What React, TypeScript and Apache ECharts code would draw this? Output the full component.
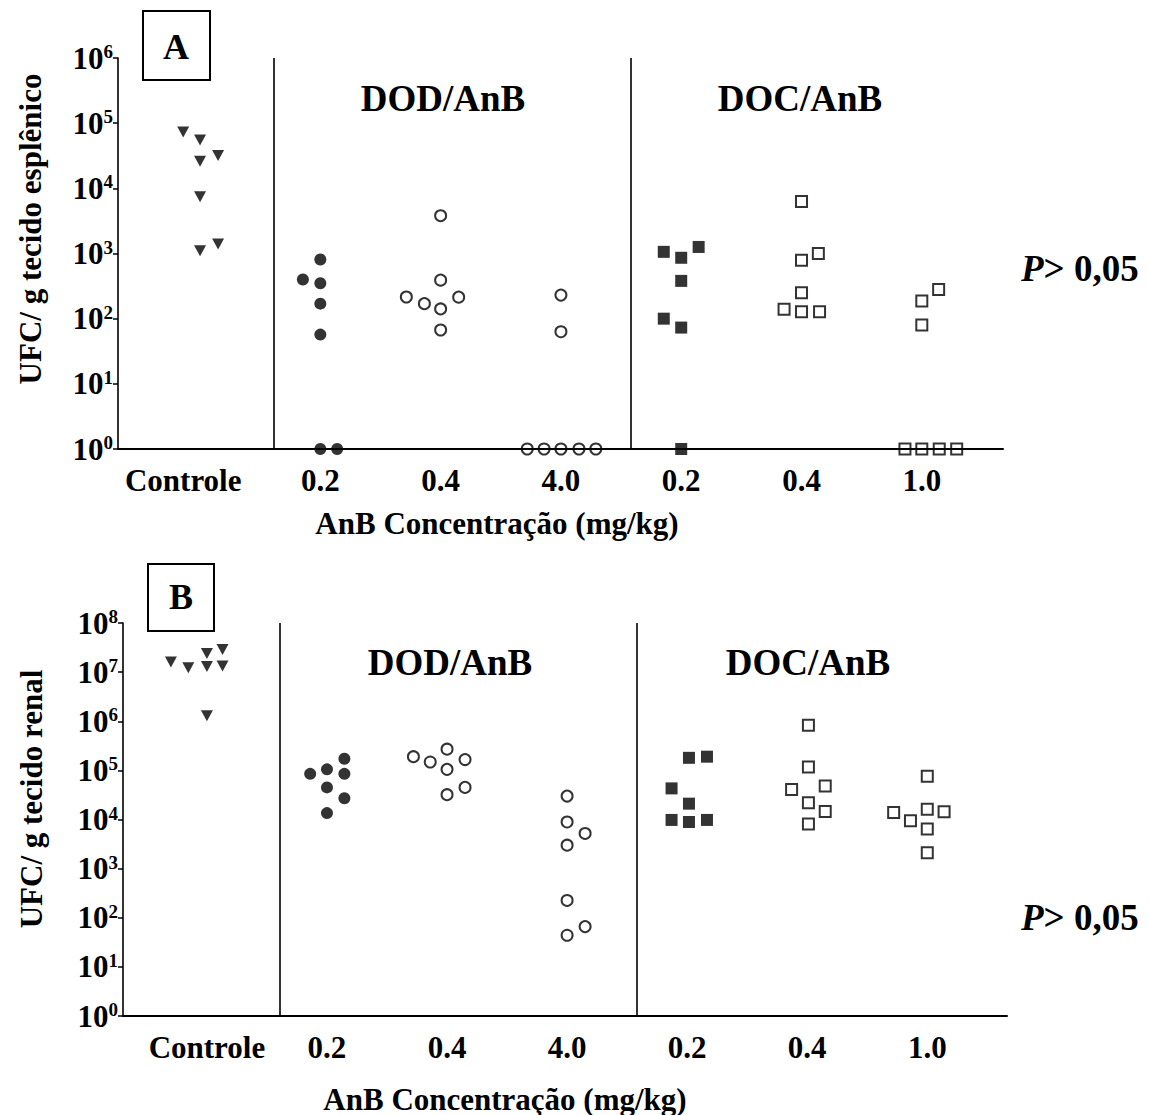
import React, { useEffect, useRef } from "react";
import * as echarts from "echarts";

const FONT = "'Liberation Serif', 'Times New Roman', serif";

const categories = ["Controle", "0.2", "0.4", "4.0", "0.2", "0.4", "1.0"];
const groupTitles = ["DOD/AnB", "DOC/AnB"];
const yNameA = "UFC/ g tecido esplênico";
const yNameB = "UFC/ g tecido renal";
const xName = "AnB Concentração (mg/kg)";
const pText = "> 0,05";

// Panel A (spleen): [group index + jitter, UFC/g]
const aControle = [[-0.14, 73000], [0, 55000], [0, 26000], [0.15, 32000], [0, 7400], [0, 1100], [0.15, 1400]];
const aDOD02 = [[1, 810], [0.855, 400], [1, 350], [1, 170], [1, 57], [1, 1], [1.14, 1]];
const aDOD04 = [[2, 3800], [2, 390], [1.715, 215], [1.865, 170], [2, 141], [2.15, 214], [2, 67]];
const aDOD40 = [[3, 230], [3, 63], [2.72, 1], [2.86, 1], [3, 1], [3.15, 1], [3.29, 1]];
const aDOC02 = [[3.855, 1060], [4, 860], [4.145, 1260], [4, 380], [3.855, 100], [4, 73], [4, 1]];
const aDOC04 = [[5, 6300], [5, 790], [5.14, 1000], [5, 250], [4.855, 139], [5, 128], [5.15, 128]];
const aDOC10 = [[6, 186], [6.14, 280], [6, 80], [5.86, 1], [6, 1], [6.145, 1], [6.29, 1]];

// Panel B (kidney)
const bControle = [[-0.3, 1.6e7], [-0.155, 1.23e7], [0, 1.3e7], [0, 2.4e7], [0.13, 2.9e7], [0.13, 1.34e7], [0, 1.3e6]];
const bDOD02 = [[0.86, 8.5e4], [1, 1.05e5], [1.145, 1.73e5], [1.145, 8.5e4], [1, 4.5e4], [1.145, 2.7e4], [1, 1.35e4]];
const bDOD04 = [[1.72, 1.9e5], [1.86, 1.48e5], [2, 2.7e5], [2.15, 1.66e5], [2, 1.05e5], [2.15, 4.5e4], [2, 3.2e4]];
const bDOD40 = [[3, 3.0e4], [3, 8.9e3], [3.15, 5.2e3], [3, 3.0e3], [3, 225], [3.15, 66], [3, 44]];
const bDOC02 = [[4.015, 1.8e5], [4.165, 1.9e5], [3.87, 4.3e4], [4.015, 2.1e4], [3.87, 9.8e3], [4.015, 8.9e3], [4.165, 9.8e3]];
const bDOC04 = [[5.01, 8.3e5], [5.01, 1.17e5], [4.87, 4.1e4], [5.15, 4.8e4], [5.01, 2.2e4], [5.15, 1.45e4], [5.01, 8.1e3]];
const bDOC10 = [[6, 7.6e4], [5.72, 1.39e4], [5.86, 9.4e3], [6, 1.62e4], [6.14, 1.44e4], [6, 6.4e3], [6, 2.1e3]];

const dividers = [0.615, 3.578];

const triangle = { symbol: "triangle", symbolRotate: 180, symbolSize: [12, 11], itemStyle: { color: "#000" } };
const dot = { symbol: "circle", symbolSize: 12, itemStyle: { color: "#000" } };
const ring = { symbol: "circle", symbolSize: 11, itemStyle: { color: "rgba(255,255,255,0)", borderColor: "#000", borderWidth: 2 } };
const fsq = { symbol: "rect", symbolSize: 12, itemStyle: { color: "#000" } };
const osq = { symbol: "rect", symbolSize: 11, itemStyle: { color: "rgba(255,255,255,0)", borderColor: "#000", borderWidth: 2 } };

function makeSeries(idx: number, groups: number[][][]) {
  const styles = [triangle, dot, ring, ring, fsq, osq, osq];
  return groups.map((d, i) => {
    const s: any = {
      type: "scatter",
      xAxisIndex: idx,
      yAxisIndex: idx,
      data: d,
      ...styles[i],
      emphasis: { disabled: true },
      z: 5,
    };
    if (i === 0) {
      s.markLine = {
        silent: true,
        symbol: ["none", "none"],
        label: { show: false },
        lineStyle: { color: "#000", width: 1.6, type: "solid" },
        data: dividers.map((v) => ({ xAxis: v })),
      };
    }
    return s;
  });
}

const yLabel = {
  formatter: (v: number) => `{b|10}{s|${Math.round(Math.log10(v))}}`,
  margin: 5,
  rich: {
    b: { fontSize: 31, fontWeight: "bold", fontFamily: FONT, color: "#000", lineHeight: 32 },
    s: { fontSize: 19, fontWeight: "bold", fontFamily: FONT, color: "#000", verticalAlign: "top", lineHeight: 32 },
  },
};

function xAxisCfg(idx: number, min: number, max: number, labelPos: number[]) {
  return {
    gridIndex: idx,
    type: "value",
    min,
    max,
    axisLine: { show: true, onZero: false, lineStyle: { color: "#000", width: 2 } },
    axisTick: { show: false },
    splitLine: { show: false },
    axisLabel: {
      customValues: labelPos,
      formatter: (v: number) => categories[Math.abs(Math.round(v))],
      fontSize: 31,
      fontWeight: "bold",
      fontFamily: FONT,
      color: "#000",
      margin: 16,
    },
  };
}

function yAxisCfg(idx: number, max: number, split: number) {
  return {
    gridIndex: idx,
    type: "log",
    logBase: 10,
    min: 1,
    max,
    splitNumber: split,
    axisLine: { show: true, onZero: false, lineStyle: { color: "#000", width: 1.6 } },
    axisTick: { show: true, inside: false, length: 5, lineStyle: { color: "#000", width: 1.5 } },
    splitLine: { show: false },
    axisLabel: yLabel,
  };
}

function txt(x: number, y: number, text: string, size: number, extra: any = {}) {
  return {
    type: "text",
    x,
    y,
    ...extra,
    style: {
      text,
      fontSize: size,
      fontWeight: "bold",
      fontFamily: FONT,
      fill: "#000",
      align: "center",
      verticalAlign: "middle",
      textAlign: "center",
      textVerticalAlign: "middle",
    },
  };
}

function pLabel(x: number, y: number) {
  return {
    type: "text",
    x,
    y,
    style: {
      text: `{i|P}{n|${pText}}`,
      align: "left",
      verticalAlign: "middle",
      textAlign: "left",
      textVerticalAlign: "middle",
      rich: {
        i: { fontSize: 37, fontStyle: "italic", fontWeight: "bold", fontFamily: FONT, fill: "#000", color: "#000" },
        n: { fontSize: 37, fontWeight: "bold", fontFamily: FONT, fill: "#000", color: "#000" },
      },
    },
  };
}

export default function App() {
  const ref = useRef<HTMLDivElement>(null);
  useEffect(() => {
    if (!ref.current) return;
    const chart = echarts.init(ref.current, null, { renderer: "svg" });
    const option: any = {
      animation: false,
      backgroundColor: "#fff",
      grid: [
        { left: 118, top: 58, width: 885, height: 391, containLabel: false, outerBoundsMode: "none" },
        { left: 123, top: 623, width: 884, height: 393, containLabel: false, outerBoundsMode: "none" },
      ],
      xAxis: [
        xAxisCfg(0, -0.682, 6.675, [-0.14, 1, 2, 3, 4, 5, 6]),
        xAxisCfg(1, -0.699, 6.664, [0, 1, 2, 3, 4, 5, 6]),
      ],
      yAxis: [yAxisCfg(0, 1e6, 6), yAxisCfg(1, 1e8, 8)],
      series: [
        ...makeSeries(0, [aControle, aDOD02, aDOD04, aDOD40, aDOC02, aDOC04, aDOC10]),
        ...makeSeries(1, [bControle, bDOD02, bDOD04, bDOD40, bDOC02, bDOC04, bDOC10]),
      ],
      graphic: [
        { type: "rect", shape: { x: 143, y: 11, width: 67, height: 69 }, style: { fill: "#fff", stroke: "#000", lineWidth: 2 } },
        txt(176, 47, "A", 36),
        { type: "rect", shape: { x: 148, y: 564, width: 66, height: 67 }, style: { fill: "#fff", stroke: "#000", lineWidth: 2 } },
        txt(181, 597, "B", 36),
        txt(443, 98, groupTitles[0], 37),
        txt(800, 98, groupTitles[1], 37),
        txt(450, 662, groupTitles[0], 37),
        txt(808, 662, groupTitles[1], 37),
        txt(30, 229, yNameA, 31, { rotation: Math.PI / 2 }),
        txt(31, 799, yNameB, 31, { rotation: Math.PI / 2 }),
        txt(497, 523, xName, 31),
        txt(505, 1099, xName, 31),
        pLabel(1021, 268),
        pLabel(1021, 917),
      ],
    };
    chart.setOption(option);
    return () => chart.dispose();
  }, []);
  return (
    <div
      ref={ref}
      style={{ position: "absolute", left: 0, top: 0, width: 1149, height: 1115 }}
    />
  );
}
